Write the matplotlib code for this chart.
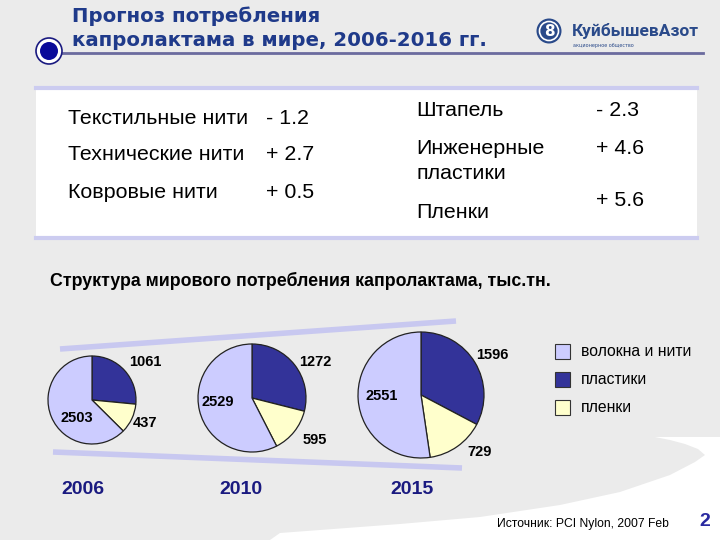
import matplotlib.pyplot as plt
from matplotlib.patches import Circle, Polygon, Rectangle

# data
years = ['2006', '2010', '2015']
segments = ['волокна и нити', 'пластики', 'пленки']
fibers = [2503, 2529, 2551]
plastics = [1061, 1272, 1596]
films = [437, 595, 729]

growth_left = ['Текстильные нити', 'Технические нити', 'Ковровые нити']
growth_left_val = ['- 1.2', '+ 2.7', '+ 0.5']
growth_right = ['Штапель', 'Инженерные\nпластики', 'Пленки']
growth_right_val = ['- 2.3', '+ 4.6', '+ 5.6']

seg_colors = {'волокна и нити': '#ccccff', 'пластики': '#333399', 'пленки': '#ffffcc'}
navy = '#1f3a8a'
H = 540

def Y(y):
    return H - y

fig = plt.figure(figsize=(7.2, 5.4), dpi=100)
fig.patch.set_facecolor('white')
ax = fig.add_axes([0, 0, 1, 1])
ax.set_xlim(0, 720)
ax.set_ylim(0, 540)
ax.set_aspect('equal')
ax.axis('off')

# background: grey with white swoosh bottom right
ax.add_patch(Rectangle((0, 0), 720, 540, color='#ebebeb', zorder=0))
swoosh = [(270, 540), (280, 533), (400, 524), (480, 517), (560, 505), (620, 492),
          (670, 475), (695, 462), (705, 455), (698, 449), (685, 444), (670, 440),
          (655, 437), (720, 437), (720, 540)]
ax.add_patch(Polygon([(x, Y(y)) for x, y in swoosh], closed=True, color='white',
                     lw=0, zorder=0))

# title
ax.text(72, Y(16), 'Прогноз потребления', fontsize=14.2, fontweight='bold', color=navy,
        family='DejaVu Sans', va='center')
ax.text(72, Y(40), 'капролактама в мире, 2006-2016 гг.', fontsize=14.2, fontweight='bold',
        color=navy, family='DejaVu Sans', va='center')
ax.plot([62, 703], [Y(53), Y(53)], color='#6b6b9e', lw=2, zorder=2)
ax.add_patch(Circle((49, Y(51)), 13, facecolor='white', edgecolor='#1a1a80', lw=1.2, zorder=3))
ax.add_patch(Circle((49, Y(51)), 9, facecolor='#0a0a9a', edgecolor='none', zorder=4))

# logo
ax.add_patch(Circle((549, Y(31)), 12.5, facecolor='#2a4a8a', edgecolor='none', zorder=3))
ax.add_patch(Circle((549, Y(31)), 9.5, facecolor='none', edgecolor='white', lw=1.2, zorder=4))
ax.text(549, Y(31), '8', fontsize=11, color='white', ha='center', va='center', zorder=5,
        fontweight='bold')
ax.text(572, Y(31), 'КуйбышевАзот', fontsize=12.5, color='#2a4a8a', va='center',
        family='Roboto', fontweight='bold')
ax.text(573, Y(45), 'акционерное общество', fontsize=3.5, color='#2a4a8a', va='center')

# growth table box
ax.add_patch(Rectangle((36, Y(239)), 661, 150, facecolor='white', edgecolor='none', zorder=1))
ax.plot([36, 697], [Y(88), Y(88)], color='#ccccf0', lw=3, zorder=2)
ax.plot([36, 697], [Y(238), Y(238)], color='#ccccf0', lw=3, zorder=2)

tfont = dict(fontsize=15.4, family='Liberation Sans', color='black', va='center')
for i, (name, val) in enumerate(zip(growth_left, growth_left_val)):
    ax.text(68, Y(118 + 37 * i), name, **tfont)
    ax.text(266, Y(118 + 37 * i), val, **tfont)
right_y = [111, 161, 212]
right_val_y = [111, 148, 201]
for i, (name, val) in enumerate(zip(growth_right, growth_right_val)):
    ax.text(416, Y(right_y[i]), name, linespacing=1.35, **tfont)
    ax.text(596, Y(right_val_y[i]), val, **tfont)

# subtitle
ax.text(50, Y(281), 'Структура мирового потребления капролактама, тыс.тн.', fontsize=12.8,
        fontweight='bold', family='Liberation Sans', va='center')

# trapezoid guide lines
ax.plot([60, 456], [Y(349), Y(321)], color='#c8c8f0', lw=4, solid_capstyle='butt', zorder=1)
ax.plot([53, 462], [Y(452), Y(468)], color='#c8c8f0', lw=4, solid_capstyle='butt', zorder=1)

# pies
centers = [(92, 400), (252, 398), (421, 395)]
radii = [44, 54, 63]
label_pos = [
    [(77, 418), (145, 362), (145, 423)],
    [(218, 402), (315, 362), (315, 440)],
    [(382, 396), (492, 355), (480, 452)],
]
year_x = [83, 241, 412]
for k in range(len(years)):
    vals = [plastics[k], films[k], fibers[k]]
    cols = [seg_colors['пластики'], seg_colors['пленки'], seg_colors['волокна и нити']]
    cx, cy = centers[k]
    ax.pie(vals, colors=cols, startangle=90, counterclock=False, center=(cx, Y(cy)),
           radius=radii[k], wedgeprops=dict(edgecolor='#222222', linewidth=0.9), frame=True)
    lbl_vals = [fibers[k], plastics[k], films[k]]
    for (lx, ly), v in zip(label_pos[k], lbl_vals):
        ax.text(lx, Y(ly), str(v), fontsize=10.5, fontweight='bold', family='Liberation Sans',
                ha='center', va='center', zorder=6)
    ax.text(year_x[k], Y(490), years[k], fontsize=14, fontweight='bold', family='Liberation Sans',
            color='#1a1a80', ha='center', va='center')

ax.set_xlim(0, 720)
ax.set_ylim(0, 540)
ax.axis('off')

# legend
for i, seg in enumerate(segments):
    yy = 351 + 28 * i
    ax.add_patch(Rectangle((555, Y(yy) - 7.5), 15, 15, facecolor=seg_colors[seg],
                           edgecolor='#333333', lw=0.8, zorder=3))
    ax.text(581, Y(yy), seg, fontsize=11.3, family='Liberation Sans', va='center')

# footer
ax.text(497, Y(524), 'Источник: PCI Nylon, 2007 Feb', fontsize=8.7, family='Liberation Sans',
        va='center')
ax.text(699, Y(522), '2', fontsize=14, fontweight='bold', family='Liberation Sans',
        color='#2a2aa0', va='center')

fig.savefig('out.png', dpi=100)
